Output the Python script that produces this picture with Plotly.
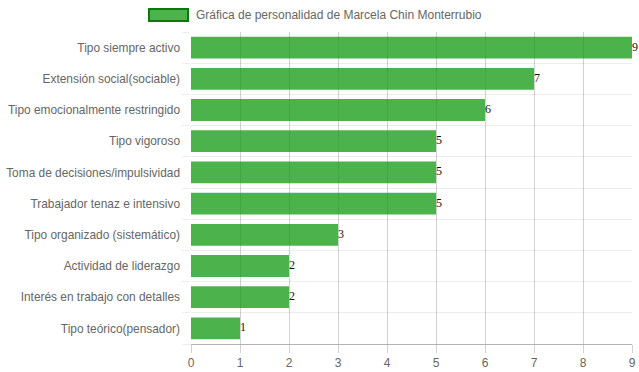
import plotly.graph_objects as go

categories = [
    "Tipo siempre activo",
    "Extensión social(sociable)",
    "Tipo emocionalmente restringido",
    "Tipo vigoroso",
    "Toma de decisiones/impulsividad",
    "Trabajador tenaz e intensivo",
    "Tipo organizado (sistemático)",
    "Actividad de liderazgo",
    "Interés en trabajo con detalles",
    "Tipo teórico(pensador)",
]
values = [9, 7, 6, 5, 5, 5, 3, 2, 2, 1]
series_name = "Gráfica de personalidad de Marcela Chin Monterrubio"
x_ticks = [0, 1, 2, 3, 4, 5, 6, 7, 8, 9]

positions = list(range(len(categories)))

fig = go.Figure()
fig.add_trace(go.Bar(
    y=positions,
    x=values,
    orientation="h",
    name=series_name,
    width=0.7,
    marker=dict(color="rgba(16,154,16,0.75)", line=dict(width=0)),
    showlegend=False,
    hoverinfo="x+y",
))
fig.add_trace(go.Scatter(
    y=positions,
    x=values,
    mode="text",
    text=[str(v) for v in values],
    textposition="middle right",
    textfont=dict(family="Liberation Serif", size=12, color="#111"),
    cliponaxis=False,
    showlegend=False,
    hoverinfo="skip",
))

fig.update_layout(
    width=639, height=372,
    margin=dict(l=191, r=7, t=32, b=28, autoexpand=False),
    paper_bgcolor="white", plot_bgcolor="white",
    font=dict(family="Liberation Sans, Arial, sans-serif", size=12, color="#666"),
    xaxis=dict(
        range=[0, 9], tickvals=x_ticks, showgrid=True, automargin=False,
        gridcolor="rgba(0,0,0,0.18)", gridwidth=1,
        ticks="outside", ticklen=8, tickcolor="rgba(0,0,0,0.18)",
        showline=True, linecolor="rgba(0,0,0,0.3)", linewidth=1,
        zeroline=False, tickfont=dict(size=12, color="#666"),
    ),
    yaxis=dict(
        range=[len(categories) - 0.5, -0.5], automargin=False,
        tickmode="array", tickvals=positions, ticktext=categories,
        showgrid=False, zeroline=False, ticks="", ticklabelstandoff=10,
        tickfont=dict(size=11.9, color="#666"),
        minor=dict(tickmode="linear", tick0=0.5, dtick=1, showgrid=True,
                   gridcolor="rgba(0,0,0,0.07)", ticks="outside", ticklen=8,
                   tickcolor="rgba(0,0,0,0.07)"),
    ),
)

# legend (box + label) drawn at the top, Chart.js style
fig.add_shape(type="rect", xref="paper", yref="paper",
              x0=(149 - 191) / 441, x1=(188 - 191) / 441,
              y0=(344 - 21) / 312, y1=(344 - 9) / 312,
              fillcolor="rgba(16,154,16,0.75)", line=dict(color="#0a7a0a", width=2))
fig.add_annotation(xref="paper", yref="paper", x=(194 - 191) / 441, y=(344 - 15) / 312,
                   text=series_name, showarrow=False, xanchor="left", yanchor="middle",
                   font=dict(size=12, color="#666"))

fig.write_html("out.html", config={"displayModeBar": False},
               post_script="document.body.style.margin='0';document.body.style.padding='0';")
